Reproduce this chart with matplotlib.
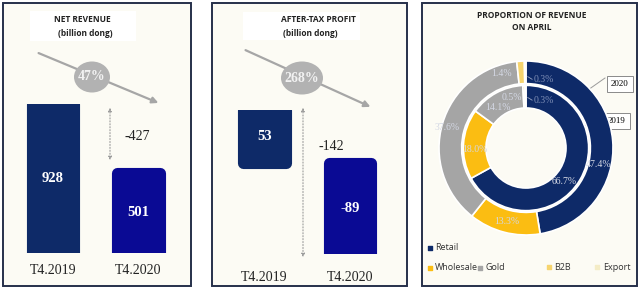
import matplotlib.pyplot as plt
from matplotlib.patches import Rectangle, Ellipse

# data
periods = ['T4.2019', 'T4.2020']
revenue = [928, 501]
profit = [53, -89]
rev_change = '47%'
profit_change = '268%'
segments = ['Retail', 'Wholesale', 'Gold', 'B2B', 'Export']
share_2020 = [47.4, 13.3, 37.6, 1.4, 0.3]
share_2019 = [66.7, 18.0, 14.1, 0.5, 0.3]

navy = '#0e2a68'
blue = '#0a0a94'
seg_colors = ['#0e2a68', '#fbbd12', '#a5a5a5', '#f6d46e', '#f4ecc6']
bg = '#fcfbf4'
W, H = 640, 289

fig = plt.figure(figsize=(6.4, 2.89), dpi=100)
fig.patch.set_facecolor('white')


def px(x, y, w, h):
    # pixel box (top-left origin) -> figure fraction
    return [x / W, 1 - (y + h) / H, w / W, h / H]


# overlay axes in pixel units for frames and annotations
ov = fig.add_axes([0, 0, 1, 1], zorder=0)
ov.set_xlim(0, W)
ov.set_ylim(H, 0)
ov.axis('off')
for x0, x1 in [(3, 191), (212, 407), (422, 637)]:
    ov.add_patch(Rectangle((x0, 3), x1 - x0, 283, facecolor=bg,
                           edgecolor='#26304a', lw=1.4))
ov.add_patch(Rectangle((30, 11), 106, 30, facecolor='white', edgecolor='none'))
ov.add_patch(Rectangle((243, 12), 117, 28, facecolor='white', edgecolor='none'))

serif = 'Liberation Serif'
sans = 'Open Sans'


def bar_panel(rect, values, colors, xlim, ylim):
    ax = fig.add_axes(px(*rect), zorder=2)
    ax.patch.set_alpha(0)
    # thick edge with round joins gives the rounded corners
    bars = ax.bar(range(len(values)), values, width=0.50, color=colors,
                  edgecolor=colors, linewidth=8, joinstyle='round')
    ax.set_xlim(*xlim)
    ax.set_ylim(*ylim)
    ax.axis('off')
    return ax, bars


# panel 1: net revenue
ax1, b1 = bar_panel((3, 104, 188, 149), revenue, [navy, blue],
                    (-0.585, 1.614), (0, revenue[0]))
for b, v in zip(b1, revenue):
    ax1.text(b.get_x() + b.get_width() / 2, v * 0.5, str(v), color='white',
             ha='center', va='center', fontsize=10.5, fontweight='bold',
             family=serif)
for i, p in enumerate(periods):
    ax1.text(i, -revenue[0] * 0.117, p, ha='center', va='center',
             fontsize=10, family=serif, color='#222222')

ov.text(82, 20, 'NET REVENUE', ha='center', va='center', fontsize=6,
        fontweight='bold', family=sans, color='#222222')
ov.text(85, 33, '(billion dong)', ha='center', va='center', fontsize=6,
        fontweight='bold', family=sans, color='#222222')
ov.annotate('', xy=(161, 104), xytext=(36, 52),
            arrowprops=dict(arrowstyle='-|>', color='#a6a6a6', lw=1.6,
                            mutation_scale=9))
ov.add_patch(Ellipse((92, 77), 36, 31, facecolor='#b2b2b2', edgecolor='none',
                     zorder=3))
ov.text(92, 77, rev_change, ha='center', va='center', color='#f2f2f2',
        fontsize=10, fontweight='bold', family=serif, zorder=4)
ov.annotate('', xy=(110, 163), xytext=(110, 105),
            arrowprops=dict(arrowstyle='<|-|>', color='#9a9a9a', lw=0.8,
                            linestyle=':', mutation_scale=5))
ov.text(137, 137, '-427', ha='center', va='center', fontsize=10,
        family=serif, color='#222222')

# panel 2: after-tax profit
ax2, b2 = bar_panel((212, 109.5, 195, 144), profit, [navy, blue],
                    (-0.614, 1.667), (-89, 53))
for b, v in zip(b2, profit):
    ax2.text(b.get_x() + b.get_width() / 2, v * 0.5, str(v), color='white',
             ha='center', va='center', fontsize=10.5, fontweight='bold',
             family=serif)
for i, p in enumerate(periods):
    ax2.text(i, -112.5, p, ha='center', va='center',
             fontsize=10, family=serif, color='#222222')

ov.text(318, 20, 'AFTER-TAX PROFIT', ha='center', va='center', fontsize=6,
        fontweight='bold', family=sans, color='#222222')
ov.text(283, 33, '(billion dong)', ha='left', va='center', fontsize=6,
        fontweight='bold', family=sans, color='#222222')
ov.annotate('', xy=(373, 108), xytext=(243, 49),
            arrowprops=dict(arrowstyle='-|>', color='#a6a6a6', lw=1.6,
                            mutation_scale=9))
ov.add_patch(Ellipse((302, 78), 42, 33, facecolor='#b2b2b2', edgecolor='none',
                     zorder=3))
ov.text(302, 78, profit_change, ha='center', va='center', color='#f2f2f2',
        fontsize=10, fontweight='bold', family=serif, zorder=4)
ov.annotate('', xy=(303, 260), xytext=(303, 105),
            arrowprops=dict(arrowstyle='<|-|>', color='#9a9a9a', lw=0.8,
                            linestyle=':', mutation_scale=5))
ov.text(331, 147, '-142', ha='center', va='center', fontsize=10,
        family=serif, color='#222222')

# panel 3: donut
ov.text(532, 16, 'PROPORTION OF REVENUE', ha='center', va='center',
        fontsize=6, fontweight='bold', family=sans, color='#222222')
ov.text(532, 28, 'ON APRIL', ha='center', va='center',
        fontsize=6, fontweight='bold', family=sans, color='#222222')

ax3 = fig.add_axes(px(439, 61, 174, 174), zorder=2)
ax3.pie(share_2020, colors=seg_colors, radius=1.0, startangle=90,
        counterclock=False,
        wedgeprops=dict(width=0.26, edgecolor='white', linewidth=1.2))
ax3.pie(share_2019, colors=seg_colors, radius=0.72, startangle=90,
        counterclock=False,
        wedgeprops=dict(width=0.26, edgecolor='white', linewidth=1.2))
ax3.set_xlim(-1, 1)
ax3.set_ylim(-1, 1)
ax3.set_aspect('equal')

lab_c = '#d4d8e4'
outer_pos = [(0.83, -0.195), (-0.22, -0.85), (-0.91, 0.23), (-0.28, 0.86),
             (0.2, 0.79)]
inner_pos = [(0.44, -0.38), (-0.59, -0.02), (-0.32, 0.46), (-0.16, 0.575),
             (0.2, 0.55)]
for vals, pos in [(share_2020, outer_pos), (share_2019, inner_pos)]:
    for i, (v, (x, y)) in enumerate(zip(vals, pos)):
        c = '#7d8db5' if i == 4 else lab_c
        ax3.text(x, y, f'{v:.1f}%', ha='center', va='center', fontsize=7,
                 family=serif, color=c, zorder=5)
ax3.plot([0.02, 0.07], [0.82, 0.79], color='#9aa6c4', lw=0.6)
ax3.plot([0.02, 0.07], [0.58, 0.55], color='#9aa6c4', lw=0.6)

# year callouts
ov.plot([578, 605], [97, 78], color='#9a9a9a', lw=0.7, zorder=3)
ov.plot([572, 601], [135, 114], color='#9a9a9a', lw=0.7, zorder=3)
ov.text(620, 84, '2020', ha='center', va='center', fontsize=6.5,
        family=serif, zorder=4,
        bbox=dict(boxstyle='square,pad=0.45', fc='white', ec='#8a8a8a', lw=0.7))
ov.text(617, 121, '2019', ha='center', va='center', fontsize=6.5,
        family=serif, zorder=4,
        bbox=dict(boxstyle='square,pad=0.45', fc='white', ec='#8a8a8a', lw=0.7))

# legend
leg_pos = [(430, 248), (430, 268), (480, 268), (549, 267), (597, 267)]
for name, c, (x, y) in zip(segments, seg_colors, leg_pos):
    ov.scatter([x], [y], marker='s', s=7, color=c, zorder=4)
    tx = x + 5 if name != 'Export' else 603
    ov.text(tx, y, name, ha='left', va='center', fontsize=6.5, family=sans,
            color='#333333', zorder=4)

fig.savefig('out.png', dpi=100, facecolor=fig.get_facecolor())
